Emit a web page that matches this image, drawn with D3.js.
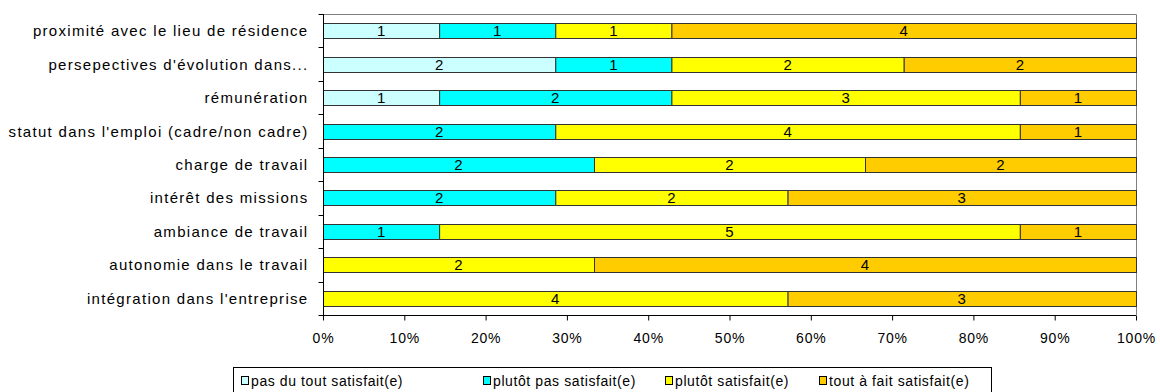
<!DOCTYPE html>
<html><head><meta charset="utf-8">
<script src="https://cdn.jsdelivr.net/npm/d3@7"></script>
<style>body{margin:0;background:#fff}svg{display:block}text{font-family:"Liberation Sans",Arial,sans-serif;}</style>
</head><body>
<svg id="c" width="1160" height="392"></svg>
<script>
const categories = [
  "proximité avec le lieu de résidence",
  "persepectives d'évolution dans...",
  "rémunération",
  "statut dans l'emploi (cadre/non cadre)",
  "charge de travail",
  "intérêt des missions",
  "ambiance de travail",
  "autonomie dans le travail",
  "intégration dans l'entreprise"
];
const seriesNames = ["pas du tout satisfait(e)", "plutôt pas satisfait(e)", "plutôt satisfait(e)", "tout à fait satisfait(e)"];
const pasDuTout   = [1, 2, 1, 0, 0, 0, 0, 0, 0];
const plutotPas   = [1, 1, 2, 2, 2, 2, 1, 0, 0];
const plutot      = [1, 2, 3, 4, 2, 2, 5, 2, 4];
const toutAFait   = [4, 2, 1, 1, 2, 3, 1, 4, 3];
const colors = ["#CCFFFF", "#00FFFF", "#FFFF00", "#FFCC00"];
const xTicks = [0, 0.1, 0.2, 0.3, 0.4, 0.5, 0.6, 0.7, 0.8, 0.9, 1.0];

const series = [pasDuTout, plutotPas, plutot, toutAFait];
const rows = categories.map((c, i) => {
  const o = {cat: c};
  seriesNames.forEach((s, j) => o[s] = series[j][i]);
  return o;
});
const stacked = d3.stack().keys(seriesNames).offset(d3.stackOffsetExpand)(rows);

const svg = d3.select("#c");
const L = 323, R = 1136, T = 14, B = 315;
const x = d3.scaleLinear().domain([0, 1]).range([L, R]);
const y = d3.scaleBand().domain(categories).range([T, B]).paddingInner(0.55).paddingOuter(0.275);
const yb = d3.scaleBand().domain(categories).range([T, B]);

// plot frame top/right
svg.append("path").attr("d", `M${L},${T+0.5}H${R+0.5}V${B}`).attr("fill","none").attr("stroke","#808080");

const g = svg.append("g");
stacked.forEach((s, j) => {
  g.selectAll(null).data(s).enter().append("rect")
    .attr("x", d => x(d[0]) + 0.5)
    .attr("y", d => Math.round(y(d.data.cat)) + 0.5)
    .attr("width", d => Math.max(0, x(d[1]) - x(d[0])))
    .attr("height", Math.round(y.bandwidth()))
    .attr("fill", colors[j]).attr("stroke", d => (d[1]-d[0])>0 ? "#333" : "none").attr("stroke-width", 1);
});
stacked.forEach((s, j) => {
  g.selectAll(null).data(s.filter(d => d.data[seriesNames[j]] > 0)).enter().append("text")
    .attr("x", d => (x(d[0]) + x(d[1])) / 2)
    .attr("y", d => y(d.data.cat) + y.bandwidth() / 2 + 5.5)
    .attr("text-anchor", "middle").attr("font-size", 15).attr("fill", "#000")
    .text(d => d.data[seriesNames[j]]);
});

// y axis
const yAxis = svg.append("g").attr("transform", `translate(${L+0.5},0)`);
yAxis.append("line").attr("y1", T).attr("y2", B).attr("stroke", "#000");
const yTicksPos = categories.map(c => yb(c)).concat([B]);
yAxis.selectAll(null).data(yTicksPos).enter().append("line")
  .attr("x1", -5).attr("x2", 0).attr("y1", d => Math.round(d) + 0.5).attr("y2", d => Math.round(d) + 0.5).attr("stroke", "#000");
yAxis.selectAll(null).data(categories).enter().append("text")
  .attr("x", -15).attr("y", c => yb(c) + yb.bandwidth() / 2 + 5.5)
  .attr("text-anchor", "end").attr("font-size", 15).attr("letter-spacing", 1.3).attr("fill", "#000").text(c => c);

// x axis
const xAxis = svg.append("g").attr("transform", `translate(0,${B+0.5})`)
  .call(d3.axisBottom(x).tickValues(xTicks).tickFormat(d3.format(".0%")).tickSize(5).tickPadding(13));
xAxis.select(".domain").attr("stroke", "#000").attr("d", `M${L},0H${R}`);
xAxis.selectAll(".tick line").attr("stroke", "#000");
xAxis.selectAll("text").attr("font-size", 14).attr("letter-spacing", 0.8).attr("fill", "#000").attr("font-family", '"Liberation Sans",Arial,sans-serif');

// legend
const lg = svg.append("g");
lg.append("rect").attr("x", 233.5).attr("y", 367.5).attr("width", 758).attr("height", 30).attr("fill", "#fff").attr("stroke", "#000");
const legX = [241, 483, 665, 819];
seriesNames.forEach((s, j) => {
  lg.append("rect").attr("x", legX[j] + 0.5).attr("y", 376.5).attr("width", 7).attr("height", 8).attr("fill", colors[j]).attr("stroke", "#000");
  lg.append("text").attr("x", legX[j] + 10).attr("y", 386).attr("font-size", 14).attr("letter-spacing", 0.6).attr("fill", "#000").text(s);
});
</script>
</body></html>
